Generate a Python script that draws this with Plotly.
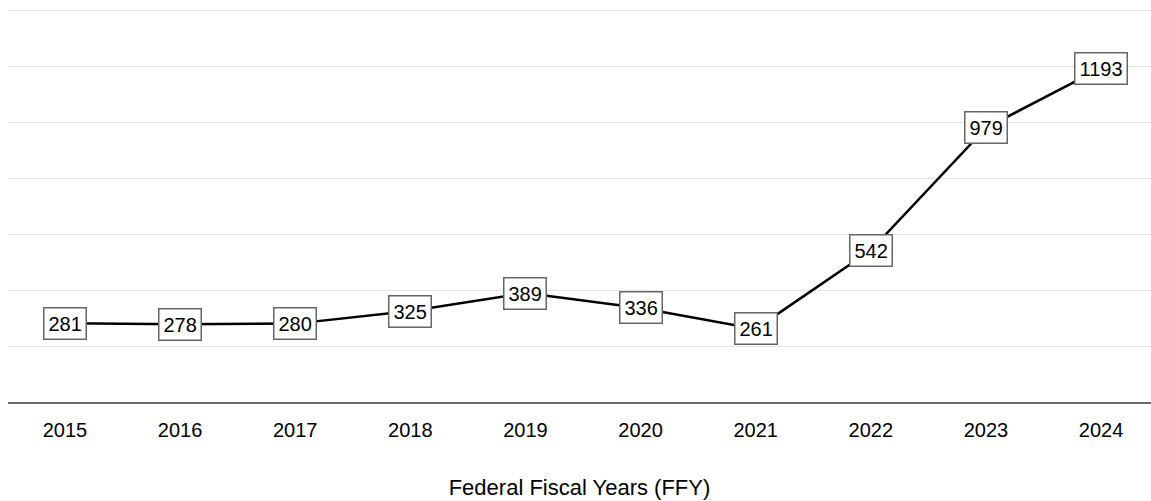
import plotly.graph_objects as go

years = ["2015", "2016", "2017", "2018", "2019", "2020", "2021", "2022", "2023", "2024"]
counts = [281, 278, 280, 325, 389, 336, 261, 542, 979, 1193]

FONT = "'Liberation Sans', Arial, sans-serif"

fig = go.Figure()
fig.add_trace(go.Scatter(
    x=list(range(len(years))),
    y=counts,
    mode="lines",
    line=dict(color="#000000", width=2.5),
    hoverinfo="skip",
    showlegend=False,
))

# Boxed value labels sitting on each point
for i, v in enumerate(counts):
    fig.add_annotation(
        x=i, y=v, text=str(v), showarrow=False,
        font=dict(family=FONT, size=20, color="#000000"),
        bgcolor="#ffffff", bordercolor="#666666", borderwidth=1.5, borderpad=4,
        xanchor="center", yanchor="middle",
    )

fig.update_layout(
    width=1151, height=501,
    margin=dict(l=8, r=0, t=0, b=99),
    paper_bgcolor="#ffffff", plot_bgcolor="#ffffff",
    font=dict(family=FONT, size=20, color="#000000"),
    xaxis=dict(
        tickmode="array",
        tickvals=list(range(len(years))),
        ticktext=years,
        range=[-0.495, 9.434],
        showgrid=False, zeroline=False,
        showline=True, linecolor="#6b6b6b", linewidth=2,
        ticks="", ticklabelstandoff=9,
        tickfont=dict(family=FONT, size=20, color="#000000"),
        title=dict(text="Federal Fiscal Years (FFY)", standoff=40,
                   font=dict(family=FONT, size=22, color="#000000")),
    ),
    yaxis=dict(
        range=[0, 1436], dtick=200, tick0=0,
        showgrid=True, gridcolor="#e3e3e3", gridwidth=1,
        zeroline=False, showticklabels=False, ticks="",
    ),
)

fig.write_html("out.html")
